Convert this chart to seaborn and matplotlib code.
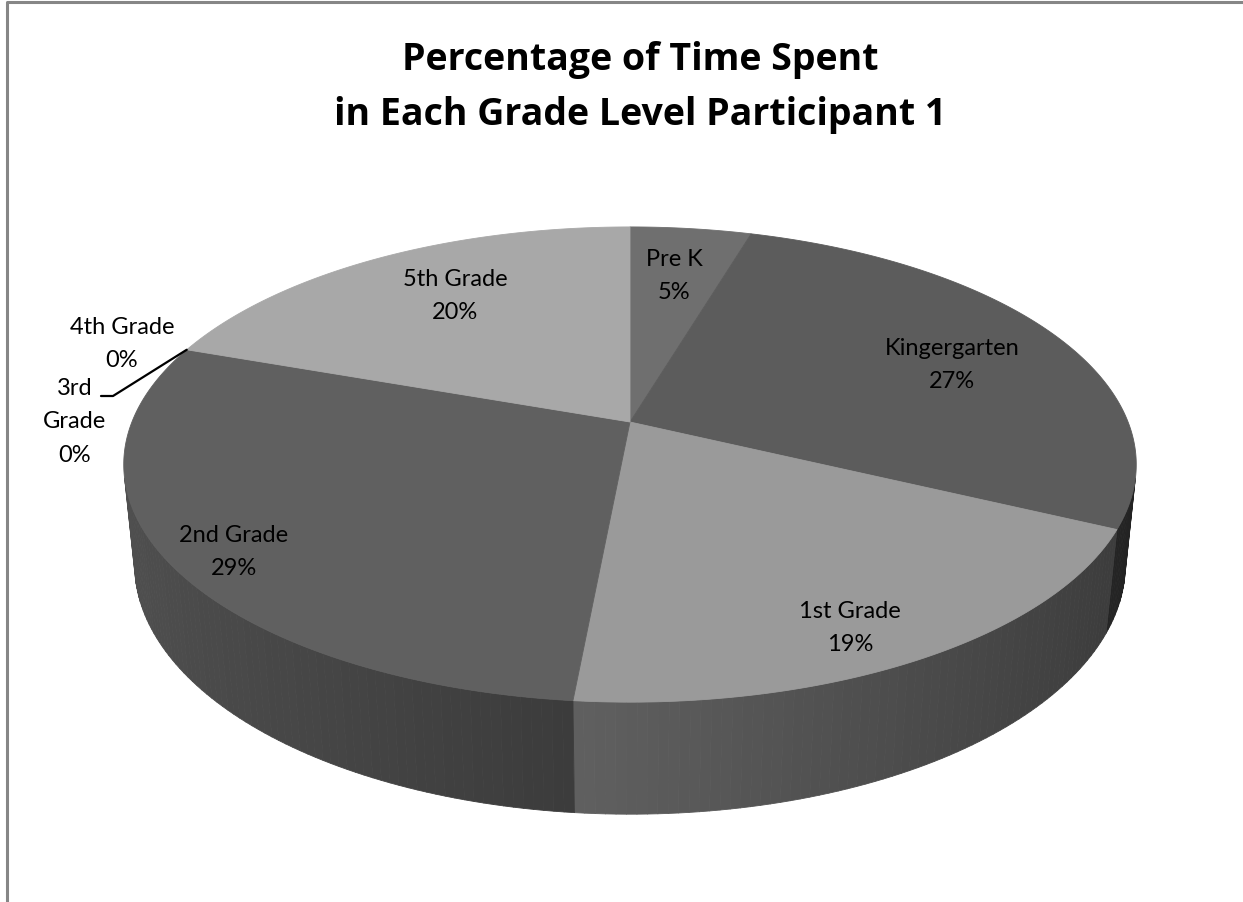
import numpy as np
import matplotlib
matplotlib.use("Agg")
import matplotlib.pyplot as plt
import seaborn as sns
from matplotlib.collections import PolyCollection

# data (share of time, percent)
grades = ["Pre K", "Kingergarten", "1st Grade", "2nd Grade", "3rd Grade", "4th Grade", "5th Grade"]
share = [4.6, 27.5, 19.4, 28.9, 0.0, 0.0, 19.6]
top_gray = ["#6f6f6f", "#5c5c5c", "#9a9a9a", "#606060", "#7a7a7a", "#8a8a8a", "#a8a8a8"]
label_text = ["Pre K\n5%", "Kingergarten\n27%", "1st Grade\n19%", "2nd Grade\n29%",
              "3rd\nGrade\n0%", "4th Grade\n0%", "5th Grade\n20%"]
label_xy = [(674, 276), (952, 365), (850, 628), (234, 552), (75, 422), (122, 344), (455, 296)]

sns.set_theme(style="white")
plt.rcParams['font.family'] = ['Lato', 'DejaVu Sans']

# simple perspective camera for the 3d pie
CX, CY = 630, 423
ALPHA = np.radians(27.5)
DIST = 4.955
FOCAL = 2468
THICK = 0.227


def project(x, y, z):
    depth = DIST + y * np.cos(ALPHA) - z * np.sin(ALPHA)
    up = y * np.sin(ALPHA) + z * np.cos(ALPHA)
    return CX + FOCAL * x / depth, CY - FOCAL * up / depth


def shade(hexcol, f):
    r, g, b = matplotlib.colors.to_rgb(hexcol)
    return (r * f, g * f, b * f)


fig = plt.figure(figsize=(12.43, 9.03), dpi=100)
ax = fig.add_axes([0, 0, 1, 1])
ax.set_xlim(0, 1243)
ax.set_ylim(903, 0)
ax.axis("off")

vals = np.array(share)
edges = np.concatenate([[0], np.cumsum(vals)]) / vals.sum() * 2 * np.pi
vis = -1.0 / (DIST * np.cos(ALPHA))

# side walls first
sides, side_cols = [], []
for i, col in enumerate(top_gray):
    a0, a1 = edges[i], edges[i + 1]
    if a1 - a0 <= 0:
        continue
    t = np.linspace(a0, a1, max(int(np.degrees(a1 - a0)), 2) + 1)
    for j in range(len(t) - 1):
        tm = 0.5 * (t[j] + t[j + 1])
        if np.cos(tm) > vis:
            continue
        p = [project(np.sin(t[j]), np.cos(t[j]), 0), project(np.sin(t[j + 1]), np.cos(t[j + 1]), 0),
             project(np.sin(t[j + 1]), np.cos(t[j + 1]), -THICK), project(np.sin(t[j]), np.cos(t[j]), -THICK)]
        sides.append(p)
        side_cols.append(shade(col, 0.6 - 0.23 * np.sin(tm)))
ax.add_collection(PolyCollection(sides, facecolors=side_cols, edgecolors=side_cols, linewidths=0.6))

# top face
for i, col in enumerate(top_gray):
    a0, a1 = edges[i], edges[i + 1]
    if a1 - a0 <= 0:
        continue
    t = np.linspace(a0, a1, 200)
    xs, ys = project(np.sin(t), np.cos(t), 0 * t)
    ox, oy = project(0, 0, 0)
    ax.fill(np.r_[ox, xs], np.r_[oy, ys], color=col, lw=0.6, ec=col)

# data labels
for txt, (lx, ly) in zip(label_text, label_xy):
    ax.text(lx, ly, txt, ha="center", va="center", fontsize=17, color="black", linespacing=1.72)

# leader line for the zero slices
sx, sy = project(np.sin(edges[4]), np.cos(edges[4]), 0)
ax.plot([sx, 113, 101], [sy, 397, 397], color="black", lw=1.6)

ax.text(640, 70, "Percentage of Time Spent", ha="center", va="baseline",
        fontsize=27, fontweight="bold", color="black", family=["Open Sans", "DejaVu Sans"])
ax.text(640, 125, "in Each Grade Level Participant 1", ha="center", va="baseline",
        fontsize=27, fontweight="bold", color="black", family=["Open Sans", "DejaVu Sans"])

# chart frame (cut off on the right and bottom)
ax.plot([7, 7, 1250], [910, 3, 3], color="#868686", lw=2.2, clip_on=False)

fig.savefig("out.png", dpi=100)
